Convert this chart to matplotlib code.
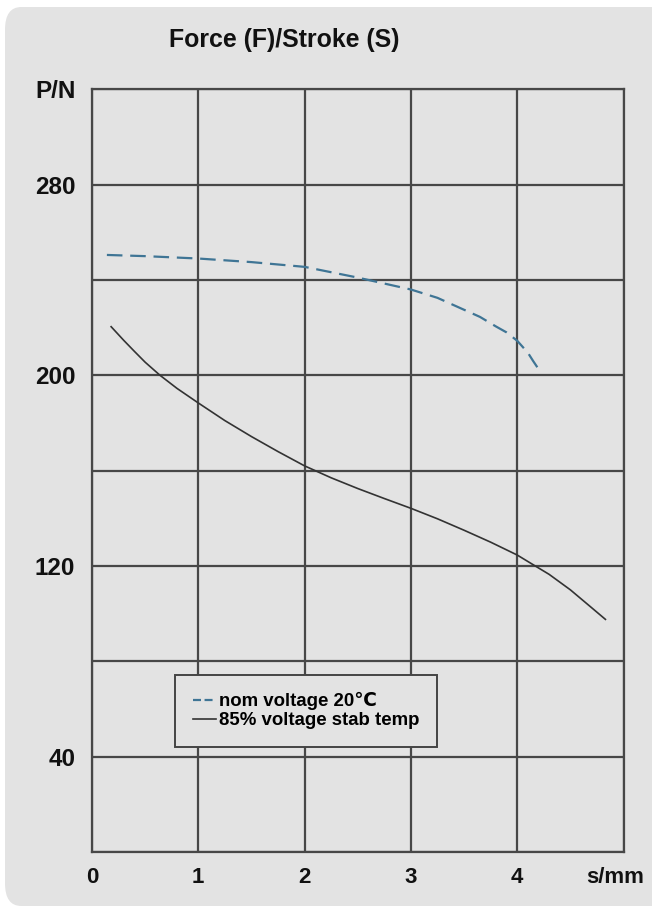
import matplotlib
matplotlib.use("Agg")
import matplotlib.pyplot as plt
import matplotlib.transforms as mtransforms
from matplotlib.patches import FancyBboxPatch

plt.rcParams["font.family"] = ["Liberation Sans", "DejaVu Sans"]
plt.rcParams["font.weight"] = "bold"

# ── Data ──────────────────────────────────────────────────────────────────────
nom_s = [0.14, 0.5, 1.0, 1.5, 2.0, 2.5, 3.0, 3.25, 3.5, 3.65, 3.8, 3.9, 4.0, 4.1, 4.15, 4.21]
nom_p = [250.5, 250.0, 249.0, 247.5, 245.5, 241.0, 236.0, 232.5, 227.5, 224.5, 220.5, 218.0,
         214.5, 209.5, 206.0, 202.0]

hot_s = [0.18, 0.3, 0.4, 0.5, 0.64, 0.8, 1.0, 1.25, 1.5, 1.75, 2.0, 2.25, 2.5, 2.75, 3.0,
         3.25, 3.5, 3.75, 4.0, 4.17, 4.3, 4.5, 4.7, 4.83]
hot_p = [220.4, 214.6, 210.0, 205.5, 200.0, 194.5, 188.4, 181.0, 174.3, 168.0, 162.0, 157.0,
         152.5, 148.3, 144.2, 139.8, 135.0, 130.0, 124.6, 120.0, 116.5, 110.0, 102.5, 97.6]

x_ticks = [0, 1, 2, 3, 4, 5]
x_labels = ["0", "1", "2", "3", "4", "s/mm"]
y_ticks = [0, 40, 80, 120, 160, 200, 240, 280, 320]
y_labels = ["", "40", "", "120", "", "200", "", "280", "P/N"]

series_names = ["nom voltage 20\u2103", "85% voltage stab temp"]

PANEL = "#e3e3e3"
GRID = "#474747"

# ── Figure ────────────────────────────────────────────────────────────────────
fig = plt.figure(figsize=(6.52, 9.09), dpi=100, facecolor="white")

panel = FancyBboxPatch((5 / 652, 3 / 909), 1.1, 899 / 909,
                       boxstyle="round,pad=0,rounding_size=0.025",
                       transform=fig.transFigure, facecolor=PANEL,
                       edgecolor="none", zorder=-10)
fig.patches.append(panel)

ax = fig.add_axes([92 / 652, 57 / 909, 531.5 / 652, 762.7 / 909])
ax.set_zorder(2)
ax.patch.set_alpha(0)

ax.plot(nom_s, nom_p, color="#3f7595", lw=1.6, dashes=(7, 3.5),
        label=series_names[0], zorder=3)
ax.plot(hot_s, hot_p, color="#333333", lw=1.2, label=series_names[1], zorder=3)

ax.set_xlim(0, 5)
ax.set_ylim(0, 320)
ax.set_xticks(x_ticks)
ax.set_xticklabels(x_labels)
ax.set_yticks(y_ticks)
ax.set_yticklabels(y_labels)
ax.tick_params(axis="both", length=0, colors="#111111")
ax.tick_params(axis="y", pad=12, labelsize=17.5)
ax.tick_params(axis="x", pad=11, labelsize=16)
ax.grid(True, color=GRID, lw=1.6)
ax.set_axisbelow(True)
for sp in ax.spines.values():
    sp.set_color(GRID)
    sp.set_linewidth(1.6)

# nudge "s/mm" left so it stays inside the panel
last = ax.get_xticklabels()[-1]
last.set_transform(last.get_transform() +
                   mtransforms.ScaledTranslation(-8 / 100, 0, fig.dpi_scale_trans))

fig.text(284 / 652, 1 - 40 / 909, "Force (F)/Stroke (S)", ha="center", va="center",
         fontsize=17.9, fontweight="bold", color="#111111")

leg = ax.legend(loc="lower left", bbox_to_anchor=(0.156, 0.1377), borderaxespad=0,
                handlelength=1.25, handletextpad=0.15, labelspacing=0.1,
                borderpad=0.95, frameon=True, fancybox=False, prop={"weight": "bold", "size": 13.4})
leg.get_frame().set_edgecolor("#444444")
leg.get_frame().set_linewidth(1.4)
leg.get_frame().set_facecolor(PANEL)
leg.get_frame().set_alpha(1)
leg.get_lines()[0].set_dashes((3.6, 1.6))

fig.savefig("out.png", dpi=100, facecolor="white")
